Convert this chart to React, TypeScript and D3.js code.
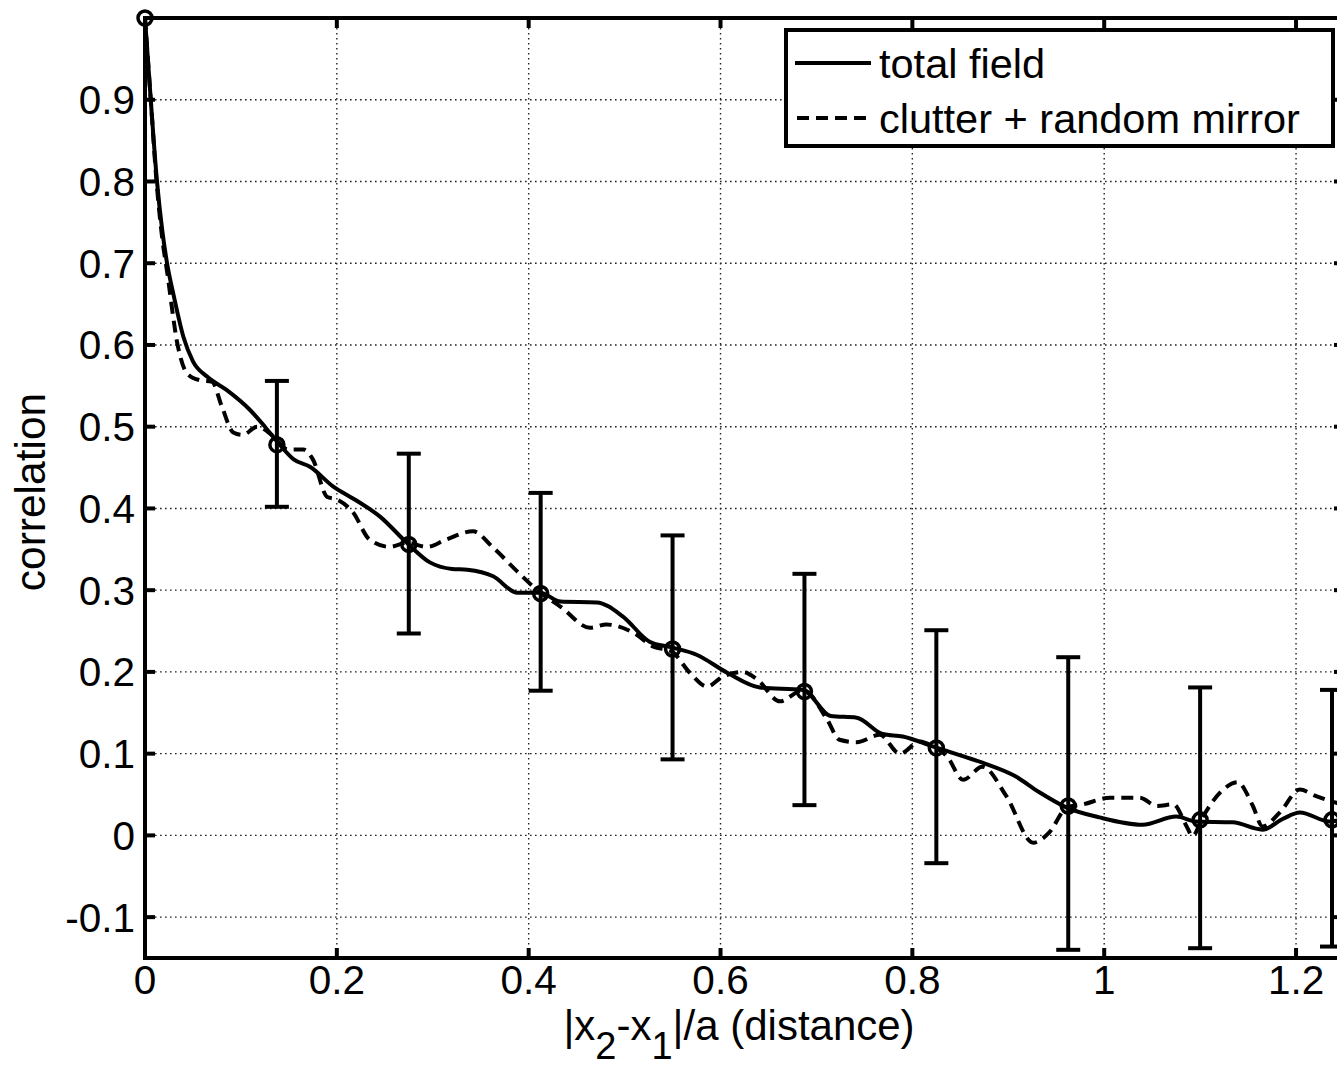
import React from "react";
import * as d3 from "d3";

const xTicks = [0, 0.2, 0.4, 0.6, 0.8, 1, 1.2];
const xTickLabels = ["0", "0.2", "0.4", "0.6", "0.8", "1", "1.2"];
const yTicks = [-0.1, 0, 0.1, 0.2, 0.3, 0.4, 0.5, 0.6, 0.7, 0.8, 0.9];
const yTickLabels = ["-0.1", "0", "0.1", "0.2", "0.3", "0.4", "0.5", "0.6", "0.7", "0.8", "0.9"];

const totalX = [0, 0.003, 0.006, 0.0125, 0.018, 0.023, 0.03, 0.04, 0.05, 0.065, 0.085, 0.109, 0.125, 0.139, 0.155, 0.172, 0.196, 0.22, 0.245, 0.273, 0.297, 0.32, 0.336, 0.363, 0.388, 0.412, 0.433, 0.471, 0.498, 0.526, 0.549, 0.575, 0.607, 0.641, 0.686, 0.715, 0.742, 0.769, 0.79, 0.821, 0.85, 0.873, 0.908, 0.932, 0.961, 0.995, 1.04, 1.075, 1.096, 1.134, 1.165, 1.186, 1.204, 1.235, 1.25];
const totalY = [1.0, 0.95, 0.9, 0.8, 0.74, 0.7, 0.66, 0.61, 0.58, 0.561, 0.545, 0.521, 0.5, 0.48, 0.46, 0.451, 0.427, 0.41, 0.39, 0.358, 0.334, 0.326, 0.325, 0.317, 0.297, 0.297, 0.286, 0.285, 0.268, 0.237, 0.23, 0.221, 0.199, 0.181, 0.178, 0.146, 0.144, 0.124, 0.121, 0.109, 0.098, 0.089, 0.072, 0.053, 0.034, 0.022, 0.013, 0.023, 0.017, 0.016, 0.007, 0.02, 0.028, 0.017, 0.02];

const clutterX = [0, 0.003, 0.006, 0.012, 0.018, 0.023, 0.034, 0.044, 0.057, 0.07, 0.08, 0.092, 0.102, 0.117, 0.134, 0.149, 0.165, 0.175, 0.19, 0.2, 0.217, 0.234, 0.255, 0.273, 0.294, 0.314, 0.342, 0.363, 0.388, 0.412, 0.433, 0.464, 0.481, 0.509, 0.53, 0.549, 0.568, 0.586, 0.602, 0.623, 0.638, 0.662, 0.686, 0.711, 0.724, 0.742, 0.766, 0.787, 0.808, 0.821, 0.836, 0.853, 0.873, 0.898, 0.926, 0.943, 0.961, 0.978, 1.006, 1.037, 1.055, 1.072, 1.086, 1.092, 1.103, 1.124, 1.139, 1.155, 1.165, 1.183, 1.204, 1.221, 1.242, 1.25];
const clutterY = [1.0, 0.95, 0.9, 0.8, 0.73, 0.69, 0.6, 0.565, 0.557, 0.555, 0.525, 0.493, 0.49, 0.5, 0.488, 0.472, 0.472, 0.46, 0.414, 0.411, 0.395, 0.362, 0.353, 0.358, 0.353, 0.362, 0.372, 0.352, 0.323, 0.297, 0.28, 0.254, 0.258, 0.248, 0.231, 0.225, 0.199, 0.182, 0.194, 0.2, 0.191, 0.164, 0.178, 0.142, 0.117, 0.114, 0.123, 0.1, 0.115, 0.109, 0.097, 0.068, 0.084, 0.048, -0.009, 0.004, 0.034, 0.038, 0.046, 0.046, 0.036, 0.038, 0.011, -0.001, 0.023, 0.056, 0.065, 0.036, 0.011, 0.028, 0.056, 0.048, 0.04, 0.038];

const errX = [0.1375, 0.275, 0.4125, 0.55, 0.6875, 0.825, 0.9625, 1.1, 1.2375];
const errMean = [0.478, 0.356, 0.296, 0.228, 0.176, 0.107, 0.036, 0.019, 0.019];
const errHi = [0.556, 0.467, 0.419, 0.367, 0.32, 0.251, 0.218, 0.181, 0.178];
const errLo = [0.402, 0.247, 0.177, 0.093, 0.037, -0.034, -0.14, -0.138, -0.136];

const markerX = [0, ...errX];
const markerY = [1.0, ...errMean];

const legendLabels = ["total field", "clutter + random mirror"];

const W = 1337;
const H = 1084;
const FONT = "'Liberation Sans', Arial, Helvetica, sans-serif";

export default function App() {
  const x = d3.scaleLinear().domain([0, 1.25]).range([145, 1344]);
  const y = d3.scaleLinear().domain([-0.15, 1]).range([958, 18]);
  const [x0, x1] = x.range();
  const [yb, yt] = y.range();

  const mk = (xs: number[], ys: number[]) =>
    d3
      .line<number>()
      .x((_, i) => x(xs[i]))
      .y((_, i) => y(ys[i]))
      .curve(d3.curveMonotoneX)(xs) || "";

  const tickLen = 10;
  const cap = 12;

  return (
    <svg
      width={W}
      height={H}
      style={{ position: "absolute", left: 0, top: 0, background: "#fff" }}
      fontFamily={FONT}
    >
      <defs>
        <clipPath id="plot">
          <rect x={x0} y={yt} width={x1 - x0} height={yb - yt} />
        </clipPath>
      </defs>
      <rect x={0} y={0} width={W} height={H} fill="#fff" />
      {/* grid */}
      <g stroke="#222" strokeWidth={1.4} strokeDasharray="1.6 3.4">
        {xTicks.filter((t) => t > 0).map((t) => (
          <line key={"gx" + t} x1={x(t)} x2={x(t)} y1={yt} y2={yb} />
        ))}
        {yTicks.map((t) => (
          <line key={"gy" + t} x1={x0} x2={x1} y1={y(t)} y2={y(t)} />
        ))}
      </g>
      {/* curves */}
      <g clipPath="url(#plot)" fill="none" stroke="#000" strokeWidth={4} strokeLinejoin="round">
        <path d={mk(clutterX, clutterY)} strokeDasharray="12 7" />
        <path d={mk(totalX, totalY)} />
      </g>
      {/* error bars */}
      <g stroke="#000" strokeWidth={4}>
        {errX.map((v, i) => (
          <g key={"e" + i}>
            <line x1={x(v)} x2={x(v)} y1={y(errLo[i])} y2={y(errHi[i])} />
            <line x1={x(v) - cap} x2={x(v) + cap} y1={y(errLo[i])} y2={y(errLo[i])} />
            <line x1={x(v) - cap} x2={x(v) + cap} y1={y(errHi[i])} y2={y(errHi[i])} />
          </g>
        ))}
      </g>
      {/* markers */}
      <g fill="none" stroke="#000" strokeWidth={3.5}>
        {markerX.map((v, i) => (
          <circle key={"m" + i} cx={x(v)} cy={y(markerY[i])} r={7} />
        ))}
      </g>
      {/* frame */}
      <rect x={x0} y={yt} width={x1 - x0} height={yb - yt} fill="none" stroke="#000" strokeWidth={4} />
      <g stroke="#000" strokeWidth={4}>
        {xTicks.map((t) => (
          <g key={"tx" + t}>
            <line x1={x(t)} x2={x(t)} y1={yb} y2={yb - tickLen} />
            <line x1={x(t)} x2={x(t)} y1={yt} y2={yt + tickLen} />
          </g>
        ))}
        {yTicks.map((t) => (
          <g key={"ty" + t}>
            <line x1={x0} x2={x0 + tickLen} y1={y(t)} y2={y(t)} />
            <line x1={x1} x2={x1 - tickLen} y1={y(t)} y2={y(t)} />
          </g>
        ))}
      </g>
      {/* tick labels */}
      <g fontSize={40.5} fill="#000">
        {xTicks.map((t, i) => (
          <text key={"lx" + t} x={x(t)} y={994} textAnchor="middle">
            {xTickLabels[i]}
          </text>
        ))}
        {yTicks.map((t, i) => (
          <text key={"ly" + t} x={135} y={y(t) + 14.5} textAnchor="end">
            {yTickLabels[i]}
          </text>
        ))}
      </g>
      {/* axis labels */}
      <text x={739} y={1040} fontSize={42} textAnchor="middle" fill="#000">
        |x<tspan fontSize={38} dy={19}>2</tspan>
        <tspan dy={-19}>-x</tspan>
        <tspan fontSize={38} dy={19}>1</tspan>
        <tspan dy={-19}>|/a (distance)</tspan>
      </text>
      <text
        transform={`translate(45, 492) rotate(-90)`}
        fontSize={42.5}
        textAnchor="middle"
        fill="#000"
      >
        correlation
      </text>
      {/* legend */}
      <g>
        <rect x={786} y={30} width={547} height={116} fill="#fff" stroke="#000" strokeWidth={4} />
        <line x1={795} x2={871} y1={63} y2={63} stroke="#000" strokeWidth={4} />
        <line x1={797} x2={871} y1={118} y2={118} stroke="#000" strokeWidth={4} strokeDasharray="12 7" />
        <text x={879} y={78} fontSize={41.5} fill="#000">
          {legendLabels[0]}
        </text>
        <text x={879} y={133} fontSize={41.5} fill="#000">
          {legendLabels[1]}
        </text>
      </g>
    </svg>
  );
}
